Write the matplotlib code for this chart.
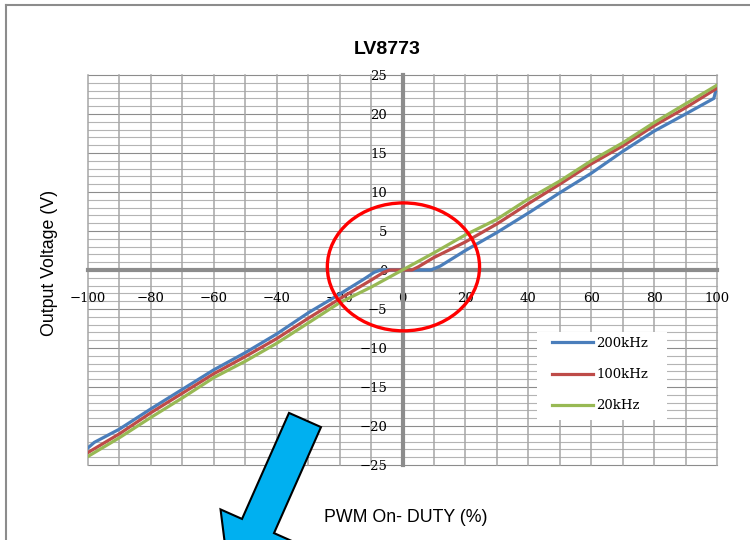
import matplotlib
matplotlib.use("Agg")
from matplotlib import pyplot as plt
from matplotlib.patches import Ellipse, Polygon, Rectangle
from matplotlib.lines import Line2D
import numpy as np

# data
duty_200k = [-100, -98, -90, -80, -70, -60, -50, -40, -30, -20, -12, -9, -7, 0, 9, 12,
             20, 30, 40, 50, 60, 70, 80, 90, 99, 100]
volt_200k = [-22.8, -22.1, -20.4, -17.8, -15.3, -12.8, -10.6, -8.2, -5.5, -3.1, -1.1, -0.3, 0, 0, 0, 0.5,
             2.5, 4.8, 7.3, 9.9, 12.4, 15.2, 17.8, 20.0, 22.0, 23.6]

duty_100k = [-100, -90, -80, -70, -60, -50, -40, -30, -20, -10, -6, -4, 0, 3, 5, 10,
             20, 30, 40, 50, 60, 70, 80, 90, 100]
volt_100k = [-23.4, -21.0, -18.3, -15.8, -13.3, -11.1, -8.8, -6.2, -3.7, -1.3, -0.3, 0, 0, 0, 0.4, 1.6,
             3.6, 5.9, 8.5, 11.0, 13.6, 15.9, 18.5, 20.8, 23.3]

duty_20k = [-100, -90, -80, -70, -60, -50, -40, -30, -20, -10, 0, 10, 20, 30, 40, 50, 60, 70, 80, 90, 100]
volt_20k = [-23.9, -21.5, -18.9, -16.4, -13.8, -11.7, -9.4, -6.8, -4.2, -2.2, 0, 2.2, 4.5, 6.5, 9.1,
            11.4, 14.0, 16.3, 18.9, 21.3, 23.7]

series_labels = ["200kHz", "100kHz", "20kHz"]
series_colors = ["#4A7EBB", "#BE4B48", "#98B954"]

x_ticks = list(range(-100, 101, 20))
y_ticks = list(range(-25, 26, 5))

W, H = 750, 540


def fx(px):
    return px / W


def fy(py):
    return 1 - py / H


fig = plt.figure(figsize=(7.5, 5.4), dpi=100)
ax = fig.add_axes([fx(88), fy(465), (717 - 88) / W, (465 - 75) / H])
ax.set_xlim(-100, 100)
ax.set_ylim(-25, 25)

# grid
for v in range(-25, 26):
    c = "#8c8c8c" if v % 5 == 0 else "#b4b4b4"
    ax.axhline(v, color=c, lw=0.8, zorder=1, clip_on=False)
for d in range(-100, 101, 10):
    ax.axvline(d, color="#a6a6a6", lw=1.1, zorder=1, clip_on=False)

# axes through zero
for s in ["top", "right"]:
    ax.spines[s].set_visible(False)
ax.spines["left"].set_position("zero")
ax.spines["bottom"].set_position("zero")
for s in ["left", "bottom"]:
    ax.spines[s].set_color("#8c8c8c")
    ax.spines[s].set_linewidth(3)
    ax.spines[s].set_zorder(2)

ax.set_xticks(x_ticks)
ax.set_yticks(y_ticks)
ax.tick_params(length=0, labelsize=9.5, colors="black")
ax.tick_params(axis="x", pad=16)
ax.tick_params(axis="y", pad=11)
for lab in ax.get_xticklabels() + ax.get_yticklabels():
    lab.set_family("DejaVu Serif")

# series
ax.plot(duty_200k, volt_200k, color=series_colors[0], lw=2.3, label=series_labels[0], zorder=3)
ax.plot(duty_100k, volt_100k, color=series_colors[1], lw=2.3, label=series_labels[1], zorder=3)
ax.plot(duty_20k, volt_20k, color=series_colors[2], lw=2.3, label=series_labels[2], zorder=3)

# red circle around the dead zone
ax.add_patch(Ellipse((0.3, 0.4), 48.4, 16.4, fill=False, edgecolor="#FF0000", lw=2.4, zorder=4))

# legend box
ax.add_patch(Rectangle((fx(537), fy(420)), (667 - 537) / W, (420 - 332) / H,
                       transform=fig.transFigure, facecolor="white", edgecolor="none",
                       zorder=5, clip_on=False))
leg = ax.legend(loc="upper left", bbox_to_anchor=(fx(552), fy(337)), bbox_transform=fig.transFigure,
                frameon=False, borderaxespad=0, borderpad=0, handlelength=3.1, handletextpad=0.25,
                labelspacing=1.38, prop={"family": "DejaVu Serif", "size": 9.5})
leg.set_zorder(6)

# title and axis titles
fig.text(fx(387), fy(50), "LV8773", ha="center", va="center", fontsize=14, fontweight="bold",
         family="Liberation Sans")
fig.text(fx(50), fy(263), "Output Voltage (V)", ha="center", va="center", rotation=90,
         fontsize=12.8, family="Liberation Sans")
fig.text(fx(406), fy(517), "PWM On- DUTY (%)", ha="center", va="center", fontsize=12.8,
         family="Liberation Sans")

# chart frame (left and top edges visible)
fig.add_artist(Line2D([fx(6), fx(6)], [0, fy(5)], color="#8c8c8c", lw=1.5))
fig.add_artist(Line2D([fx(6), 1], [fy(5), fy(5)], color="#8c8c8c", lw=1.5))

# big blue arrow
tail = np.array([305.0, 420.0])
u = np.array([-0.405, 0.914])
n = np.array([0.914, 0.405])
shaft_half, shaft_len, head_half, head_len = 17.5, 116.0, 41.0, 68.0
pts = [tail - shaft_half * n,
       tail + shaft_len * u - shaft_half * n,
       tail + shaft_len * u - head_half * n,
       tail + (shaft_len + head_len) * u,
       tail + shaft_len * u + head_half * n,
       tail + shaft_len * u + shaft_half * n,
       tail + shaft_half * n]
pts = [(fx(p[0]), fy(p[1])) for p in pts]
fig.add_artist(Polygon(pts, closed=True, facecolor="#00B0F0", edgecolor="black", lw=1.5,
                       transform=fig.transFigure, zorder=10))

fig.savefig("out.png", dpi=100)
